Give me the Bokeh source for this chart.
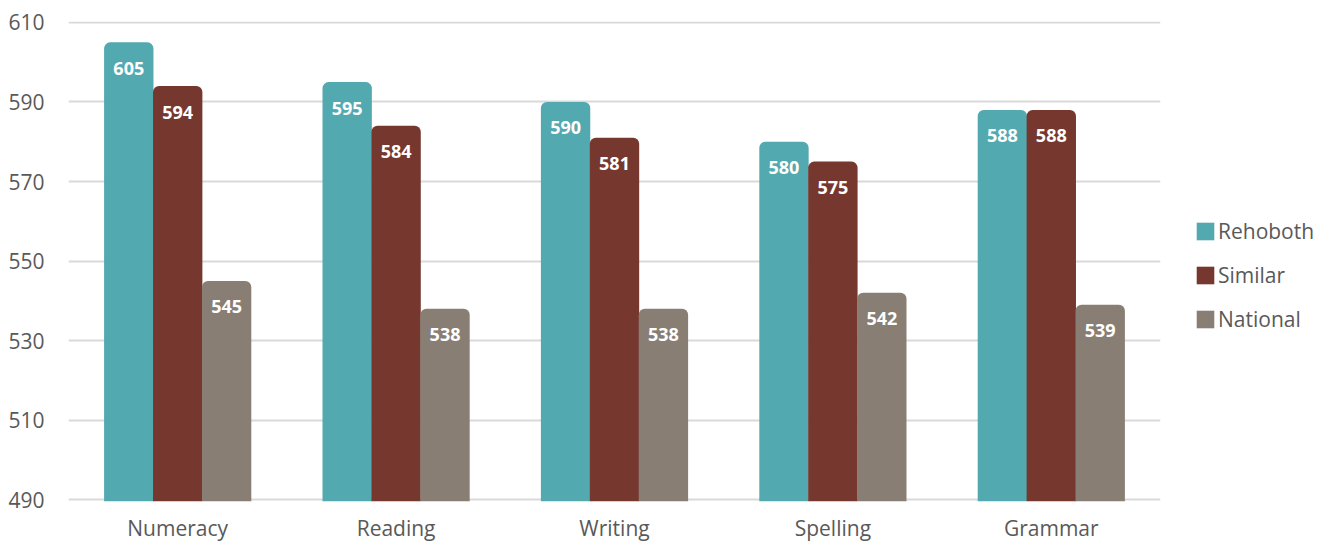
from bokeh.plotting import figure
from bokeh.models import (ColumnDataSource, Range1d, FixedTicker, Legend, LegendItem)
from bokeh.core.properties import value
from bokeh.embed import file_html
from bokeh.resources import INLINE

# Assessment scores by domain
categories = ["Numeracy", "Reading", "Writing", "Spelling", "Grammar"]
series_names = ["Rehoboth", "Similar", "National"]
rehoboth = [605, 595, 590, 580, 588]
similar = [594, 584, 581, 575, 588]
national = [545, 538, 538, 542, 539]
y_ticks = [490, 510, 530, 550, 570, 590, 610]

colors = ["#53a9b0", "#76372e", "#897e74"]
FONT = "Open Sans"

y_start, y_end = 489.5, 610.25

p = figure(frame_width=1092, frame_height=480, output_backend="svg",
           toolbar_location=None,
           x_range=Range1d(0, len(categories)), y_range=Range1d(y_start, y_end),
           min_border_left=68, min_border_right=0, min_border_top=21,
           min_border_bottom=45)
p.outline_line_color = None
p.background_fill_color = "white"
p.border_fill_color = "white"

centers = [i + 0.5 for i in range(len(categories))]
offsets = [-0.224, 0.0, 0.224]
bar_w = 0.226

renderers = []
for name, vals, col, off in zip(series_names, [rehoboth, similar, national], colors, offsets):
    src = ColumnDataSource(dict(x=[c + off for c in centers], top=vals,
                                lbl=[str(v) for v in vals]))
    r = p.vbar(x="x", top="top", bottom=y_start, width=bar_w, source=src,
               fill_color=col, line_color=None, border_radius=(6, 6, 0, 0))
    p.text(x="x", y="top", text="lbl", source=src, text_color="white",
           text_font=value(FONT), text_font_style="bold", text_font_size="18px",
           text_align="center", text_baseline="middle", y_offset=26)
    renderers.append((name, r))

# axes
p.xaxis.ticker = FixedTicker(ticks=centers)
p.xaxis.major_label_overrides = {c: n for c, n in zip(centers, categories)}
p.yaxis.ticker = FixedTicker(ticks=y_ticks)
for ax in (p.xaxis[0], p.yaxis[0]):
    ax.axis_line_color = None
    ax.major_tick_line_color = None
    ax.minor_tick_line_color = None
    ax.major_label_text_font = FONT
    ax.major_label_text_color = "#595959"
    ax.major_label_text_font_size = "21px"
p.xaxis.major_label_standoff = 6
p.yaxis.major_label_standoff = 18

p.xgrid.grid_line_color = None
p.ygrid.grid_line_color = "#d9d9d9"
p.ygrid.grid_line_width = 2
p.ygrid.ticker = FixedTicker(ticks=y_ticks)

legend = Legend(items=[LegendItem(label=n, renderers=[r]) for n, r in renderers],
                location=(34, 168), orientation="vertical",
                glyph_width=22, glyph_height=22, label_standoff=2, spacing=16,
                padding=10, margin=27, border_line_color=None,
                background_fill_alpha=0, label_text_font=FONT,
                label_text_font_size="21px", label_text_color="#595959")
p.add_layout(legend, "right")

open("out.html", "w").write(file_html(p, INLINE))
